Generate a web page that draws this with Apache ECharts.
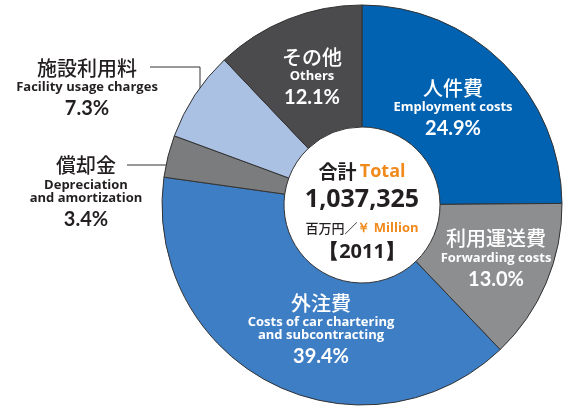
<!DOCTYPE html>
<html>
<head>
<meta charset="utf-8">
<script src="https://cdn.jsdelivr.net/npm/echarts@6/dist/echarts.min.js"></script>
<style>
html,body{margin:0;padding:0;background:#fff;}
#chart{width:563px;height:410px;}
</style>
</head>
<body>
<div id="chart"></div>
<script>
const categoriesJa = ['人件費', '利用運送費', '外注費', '償却金', '施設利用料', 'その他'];
const categoriesEn = [
  ['Employment costs'],
  ['Forwarding costs'],
  ['Costs of car chartering', 'and subcontracting'],
  ['Depreciation', 'and amortization'],
  ['Facility usage charges'],
  ['Others']
];
const shares = [24.9, 13.0, 39.4, 3.4, 7.3, 12.1];
const sliceColors = ['#0062b1', '#8d8e90', '#3d7ec5', '#7b7c7e', '#abc1e3', '#4b4b4d'];
const totalLabelJa = '合計';
const totalLabelEn = 'Total';
const totalValue = '1,037,325';
const unitJa = '百万円／';
const unitEn = '￥ Million';
const yearLabel = '2011';

// label placement (layout only)
const labelPos = [[453, 109.5], [496, 260], [321, 331], [86, 193.5], [87, 89.5], [312, 78.5]];
const outsideIdx = [3, 4];
const leaderLines = {
  3: [[201, 165], [127, 165]],
  4: [[200, 113], [200, 67], [150, 67]]
};

const FONT = "Lato, 'Noto Sans CJK JP', sans-serif";
const ENFONT = "'Open Sans', sans-serif";
const JAFONT = "'Noto Sans CJK JP', sans-serif";

function richFor(color) {
  return {
    ja: { fontFamily: JAFONT, fontSize: 20, fontWeight: 500, color: color, lineHeight: 26 },
    en: { fontFamily: ENFONT, fontSize: 13, fontWeight: 'bold', color: color, lineHeight: 13 },
    pct: { fontFamily: FONT, fontSize: 20, fontWeight: 'bold', color: color, lineHeight: 30 }
  };
}

const data = categoriesJa.map((name, i) => {
  const outside = outsideIdx.indexOf(i) >= 0;
  const color = outside ? '#231f20' : '#ffffff';
  return {
    name: name,
    value: shares[i],
    itemStyle: { color: sliceColors[i] },
    label: {
      show: true,
      position: outside ? 'outside' : 'inside',
      formatter: '{ja|' + name + '}\n' + categoriesEn[i].map(s => '{en|' + s + '}').join('\n') + '\n{pct|' + shares[i].toFixed(1) + '%}',
      rich: richFor(color),
      align: 'center'
    },
    labelLine: { show: outside, lineStyle: { color: '#333', width: 1 } }
  };
});

const chart = echarts.init(document.getElementById('chart'), null, { renderer: 'canvas' });
chart.setOption({
  backgroundColor: '#ffffff',
  animation: false,
  series: [{
    type: 'pie',
    center: [362, 205],
    radius: [78, 200],
    startAngle: 90,
    clockwise: true,
    avoidLabelOverlap: false,
    silent: true,
    itemStyle: { borderColor: '#333', borderWidth: 1 },
    data: data,
    labelLayout: function (params) {
      const i = params.dataIndex;
      const res = { x: labelPos[i][0], y: labelPos[i][1], align: 'center', verticalAlign: 'middle' };
      if (leaderLines[i]) res.labelLinePoints = leaderLines[i];
      return res;
    }
  }],
  graphic: [{
    type: 'text',
    x: 362,
    y: 211,
    silent: true,
    style: {
      text: '{a|' + totalLabelJa + '} {b|' + totalLabelEn + '}\n{num|' + totalValue + '}\n{c|' + unitJa + '}{d|' + unitEn + '}\n{e|【' + yearLabel + '】}',
      align: 'center',
      verticalAlign: 'middle',
      rich: {
        a: { fontFamily: JAFONT, fontSize: 19, fontWeight: 'bold', fill: '#231f20', lineHeight: 26 },
        b: { fontFamily: ENFONT, fontSize: 18, fontWeight: 'bold', fill: '#f08a1c', lineHeight: 26 },
        num: { fontFamily: ENFONT, fontSize: 25, fontWeight: 'bold', fill: '#231f20', lineHeight: 30 },
        c: { fontFamily: JAFONT, fontSize: 13, fontWeight: 500, fill: '#231f20', lineHeight: 26 },
        d: { fontFamily: ENFONT, fontSize: 13, fontWeight: 'bold', fill: '#f08a1c', lineHeight: 26 },
        e: { fontFamily: ENFONT, fontSize: 20, fontWeight: 'bold', fill: '#231f20', lineHeight: 22 }
      }
    }
  }]
});
</script>
</body>
</html>
